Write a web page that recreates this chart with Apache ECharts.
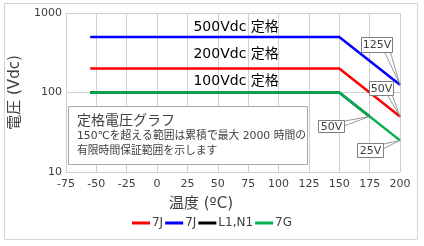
<!DOCTYPE html>
<html><head><meta charset="utf-8">
<script src="https://cdn.jsdelivr.net/npm/echarts@6/dist/echarts.min.js"></script>
<style>html,body{margin:0;padding:0;background:#fff}#c{width:424px;height:246px}</style>
</head><body><div id="c"></div>
<script>
// ---- data ----
const xTicks = [-75, -50, -25, 0, 25, 50, 75, 100, 125, 150, 175, 200];
const yTicks = [10, 100, 1000];
const seriesNames = ['7J', '7J', 'L1,N1', '7G'];
const temp7Jred = [-55, 150, 200];
const volt7Jred = [200, 200, 50];
const temp7Jblue = [-55, 150, 200];
const volt7Jblue = [500, 500, 125];
const tempL1N1 = [-55, 150, 175];
const voltL1N1 = [100, 100, 50];
const temp7G = [-55, 150, 200];
const volt7G = [100, 100, 25];
const ratingTexts = ['500Vdc 定格', '200Vdc 定格', '100Vdc 定格'];
const ratingAnchorsX = [30, 30, 30];
const ratingAnchorsY = [500, 200, 100];
const calloutTexts = ['125V', '50V', '50V', '25V'];
const calloutX = [200, 200, 175, 200];
const calloutY = [125, 50, 50, 25];
const noteTitle = '定格電圧グラフ';
const noteLines = ['150℃を超える範囲は累積で最大 2000 時間の', '有限時間保証範囲を示します'];

// ---- styles ----
const colors = ['#ff0000', '#0000ff', '#000000', '#00b050'];
const FONT = 'DejaVu Sans, "Noto Sans CJK JP", sans-serif';
const ratingDy = [-10, -14, -11];
// callout geometry relative to tip pixel: box [x0,y0,x1,y1], wedge base [[x,y],[x,y]]
const calloutGeom = [
  {box: [-39, -48, -8, -33], base: [[-16, -34], [-10, -34]]},
  {box: [-31, -35, -7, -21], base: [[-13, -22], [-8, -22]]},
  {box: [-52, 4, -26, 16], base: [[-27, 5], [-27, 10]]},
  {box: [-43, 3, -17, 17], base: [[-18, 4], [-18, 9]]}
];

function pairs(xs, ys) { return xs.map((x, i) => [x, ys[i]]); }
const seriesData = [pairs(temp7Jred, volt7Jred), pairs(temp7Jblue, volt7Jblue), pairs(tempL1N1, voltL1N1), pairs(temp7G, volt7G)];
const ids = ['s0', 's1', 's2', 's3'];

const chart = echarts.init(document.getElementById('c'), null, {renderer: 'canvas'});
chart.setOption({
  animation: false,
  textStyle: {fontFamily: FONT},
  grid: {left: 57, right: 24, top: 13, bottom: 74},
  xAxis: {
    type: 'value', min: -75, max: 200, interval: 25,
    axisLine: {show: false}, axisTick: {show: false},
    splitLine: {show: true, lineStyle: {color: '#d0d0d0', width: 1}},
    axisLabel: {fontSize: 11, color: '#404040', margin: 7, fontFamily: FONT,
      formatter: v => xTicks.includes(v) ? String(v) : ''}
  },
  yAxis: {
    type: 'log', logBase: 10, min: 10, max: 1000,
    name: '電圧 (Vdc)', nameLocation: 'middle', nameGap: 31,
    nameTextStyle: {fontSize: 15, color: '#404040', fontFamily: FONT},
    axisLine: {show: false},
    axisTick: {show: true, length: 4, lineStyle: {color: '#d0d0d0'}},
    minorTick: {show: false},
    splitLine: {show: true, lineStyle: {color: '#d0d0d0', width: 1}},
    axisLabel: {fontSize: 11, color: '#404040', margin: 4, fontFamily: FONT,
      formatter: v => yTicks.includes(v) ? String(v) : ''}
  },
  legend: {
    bottom: 12, left: 'center', icon: 'rect', itemWidth: 18, itemHeight: 3, itemGap: 2,
    textStyle: {fontSize: 12, color: '#404040', padding: [0, 0, 0, -3], fontFamily: FONT},
    data: ids,
    formatter: name => seriesNames[ids.indexOf(name)]
  },
  series: ids.map((id, i) => ({
    name: id, type: 'line', data: seriesData[i], symbol: 'none',
    lineStyle: {color: colors[i], width: 2.5}, itemStyle: {color: colors[i]},
    z: 2 + i
  }))
});

function build() {
  const g = [];
  g.push({type: 'rect', shape: {x: 4.5, y: 3.5, width: 413, height: 236}, style: {fill: 'none', stroke: '#d4d4d4', lineWidth: 1}, z: 0, silent: true});
  g.push({type: 'text', x: 201, y: 204, style: {text: '温度 (ºC)', font: '15px ' + FONT, fill: '#404040', align: 'center', verticalAlign: 'middle'}, z: 10});
  ratingTexts.forEach((t, i) => {
    const p = chart.convertToPixel({gridIndex: 0}, [ratingAnchorsX[i], ratingAnchorsY[i]]);
    g.push({type: 'text', x: p[0], y: p[1] + ratingDy[i], style: {text: t, font: '14px ' + FONT, fill: '#000', align: 'left', verticalAlign: 'middle'}, z: 10});
  });
  g.push({type: 'rect', shape: {x: 68.5, y: 106.5, width: 239, height: 58}, style: {fill: '#fff', stroke: '#a6a6a6', lineWidth: 1}, z: 20});
  g.push({type: 'text', x: 77, y: 121, style: {text: noteTitle, font: '14px ' + FONT, fill: '#404040', verticalAlign: 'middle'}, z: 21});
  noteLines.forEach((t, i) => {
    g.push({type: 'text', x: 77, y: 136 + i * 15, style: {text: t, font: '10.8px ' + FONT, fill: '#404040', verticalAlign: 'middle'}, z: 21});
  });
  calloutTexts.forEach((t, i) => {
    const p = chart.convertToPixel({gridIndex: 0}, [calloutX[i], calloutY[i]]);
    const G = calloutGeom[i];
    const tip = [p[0], p[1]];
    g.push({type: 'polygon', shape: {points: [[tip[0] + G.base[0][0], tip[1] + G.base[0][1]], tip, [tip[0] + G.base[1][0], tip[1] + G.base[1][1]]]},
      style: {fill: '#fff', stroke: '#7f7f7f', lineWidth: 0.8}, z: 30});
    const x0 = Math.round(tip[0] + G.box[0]) + 0.5, y0 = Math.round(tip[1] + G.box[1]) + 0.5;
    const w = G.box[2] - G.box[0], h = G.box[3] - G.box[1];
    g.push({type: 'rect', shape: {x: x0, y: y0, width: w, height: h}, style: {fill: '#fff', stroke: '#7f7f7f', lineWidth: 1}, z: 31});
    g.push({type: 'text', x: x0 + w / 2, y: y0 + h / 2 + 0.5, style: {text: t, font: '11px ' + FONT, fill: '#404040', align: 'center', verticalAlign: 'middle'}, z: 32});
  });
  chart.setOption({graphic: g});
}
build();
</script>
</body></html>
